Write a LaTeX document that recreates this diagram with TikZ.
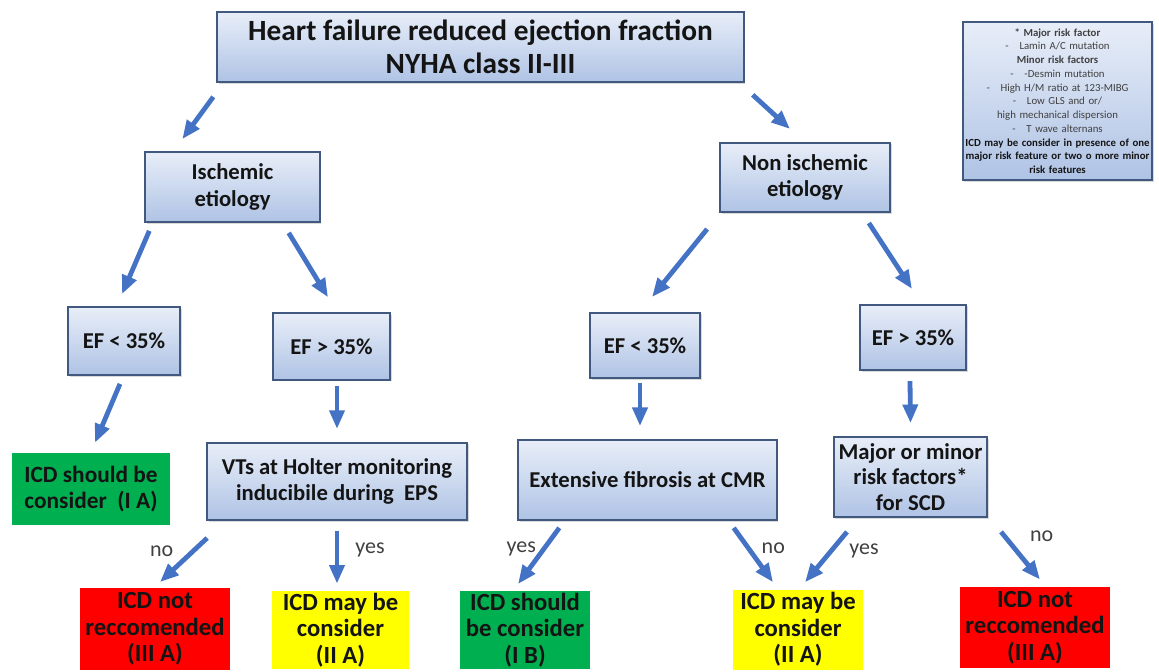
\documentclass[tikz,border=0pt]{standalone}
\usepackage{fontspec}
\setmainfont{Carlito}
\usetikzlibrary{arrows.meta,positioning,calc,shadows}
\definecolor{hfblue}{HTML}{4472C4}
\definecolor{hfedge}{HTML}{41597F}
\definecolor{hftop}{HTML}{E8EEF8}
\definecolor{hfbot}{HTML}{AFC3E5}
\definecolor{hfgreen}{HTML}{00B050}
\definecolor{hfred}{HTML}{FF0000}
\definecolor{hfyellow}{HTML}{FFFF00}
\definecolor{hfink}{HTML}{141414}
\definecolor{hfgrey}{HTML}{404040}

\begin{document}
\begin{tikzpicture}[x=0.75pt,y=-0.75pt,
  font=\bfseries\fontsize{17}{20}\selectfont,
  qbox/.style={draw=hfedge,line width=1.3pt,top color=hftop,bottom color=hfbot,
               align=center,inner sep=1pt,text=hfink,
               drop shadow={shadow xshift=1.2pt,shadow yshift=-1.2pt,opacity=.3}},
  verdict/.style={align=center,inner sep=0pt,text=hfink,
                  font=\bfseries\fontsize{18.5}{19.8}\selectfont},
  good/.style={verdict,fill=hfgreen},
  maybe/.style={verdict,fill=hfyellow},
  bad/.style={verdict,fill=hfred},
  flow/.style={-{Triangle[width=11pt,length=14pt]},line width=3.6pt,draw=hfblue},
  lbl/.style={font=\fontsize{16.5}{18}\selectfont,text=hfgrey,inner sep=1pt},
]
\useasboundingbox (0,0) rectangle (1159,671);

% the top of the tree
\node[qbox,minimum width=395pt,minimum height=52.5pt,
      font=\bfseries\fontsize{22}{25}\selectfont] (title) at (480.5,47)
  {Heart failure reduced ejection fraction\\NYHA class II-III};
\node[qbox,minimum width=131pt,minimum height=52.5pt] (isch) at (232.5,187)
  {Ischemic\\etiology};
\node[qbox,minimum width=127.5pt,minimum height=52pt] (nonisch) at (805,177.5)
  {Non ischemic\\etiology};

% ejection fraction split
\node[qbox,minimum width=84pt,minimum height=51pt] (ilow) at (124,341) {EF < 35\%};
\node[qbox,minimum width=88pt,minimum height=50pt] (ihigh) at (331.5,346.5) {EF > 35\%};
\node[qbox,minimum width=82.5pt,minimum height=49pt] (nlow) at (645,345.5) {EF < 35\%};
\node[qbox,minimum width=79.5pt,minimum height=49pt] (nhigh) at (913,337.5) {EF > 35\%};

% second questions
\node[good,minimum width=118.5pt,minimum height=54pt,
      font=\bfseries\fontsize{17.5}{20}\selectfont] (icdIA) at (91,489)
  {ICD should be\\consider~ (I A)};
\node[qbox,minimum width=195pt,minimum height=58pt] (holter) at (337,481.5)
  {VTs at Holter monitoring\\inducibile during~ EPS};
\node[qbox,minimum width=194pt,minimum height=60pt] (fibro) at (647.5,480)
  {Extensive fibrosis at CMR};
\node[qbox,minimum width=115pt,minimum height=60pt,
      font=\bfseries\fontsize{17}{19}\selectfont] (risk) at (910.5,477)
  {Major or minor\\risk factors*\\for SCD};

% the verdicts
\node[bad,minimum width=112.5pt,minimum height=61pt] (notrecL) at (155,629)
  {ICD not\\reccomended\\(III A)};
\node[maybe,minimum width=103pt,minimum height=58.5pt] (mayL) at (340.5,630)
  {ICD may be\\consider\\(II A)};
\node[good,minimum width=97.5pt,minimum height=58pt] (icdIB) at (525,630)
  {ICD should\\be consider\\(I B)};
\node[maybe,minimum width=97.5pt,minimum height=60pt] (mayR) at (798,629.5)
  {ICD may be\\consider\\(II A)};
\node[bad,minimum width=112.5pt,minimum height=61pt] (notrecR) at (1035,627.5)
  {ICD not\\reccomended\\(III A)};

% risk factor legend
\node[qbox,minimum width=142pt,minimum height=118.5pt,text width=141pt,inner sep=0.5pt,
      font=\fontsize{8.1}{10.3}\selectfont,text=hfgrey] (legend) at (1057.5,101)
  {\textbf{* Major risk factor}\\
   -\quad Lamin A/C mutation\\
   \textbf{Minor risk factors}\\
   -\quad -Desmin mutation\\
   -\quad High H/M ratio at 123-MIBG\\
   -\quad Low GLS and or/\\
   high mechanical dispersion\\
   -\quad T wave alternans\\
   \textcolor{hfink}{\textbf{ICD may be consider in presence of one}}\\
   \textcolor{hfink}{\textbf{major risk feature or two o more minor}}\\
   \textcolor{hfink}{\textbf{risk features}}};

% arrows
\draw[flow] ($(title.south west)+(-3,14)$) -- ($(isch.north west)+(38,-12)$);
\draw[flow] ($(title.south east)+(8,12)$) -- ($(nonisch.north)+(-15,-13)$);
\draw[flow] ($(isch.south west)+(5,8)$) -- ($(ilow.north)+(-2,-12)$);
\draw[flow] ($(isch.south east)+(-32,10)$) -- ($(ihigh.north)+(-3.5,-15)$);
\draw[flow] ($(nonisch.south west)+(-12,16)$) -- ($(nlow.north)+(7,-15)$);
\draw[flow] ($(nonisch.south east)+(-22,10)$) -- ($(nhigh.north)+(-1,-15)$);
\draw[flow] ($(ilow.south)+(-4,8)$) -- ($(icdIA.north)+(4,-10)$);
\draw[flow] ($(ihigh.south)+(5.5,5)$) -- ($(holter.north)+(0,-13)$);
\draw[flow] ($(nlow.south)+(-5,4)$) -- ($(fibro.north)+(-7.5,-13)$);
\draw[flow] ($(nhigh.south)+(-3,10)$) -- ($(risk.north)+(0,-13)$);

\draw[flow] ($(holter.south west)+(1,17)$) --
  node[lbl,pos=.3,left=12pt]{no} ($(notrecL.north)+(5,-6)$);
\draw[flow] ($(holter.south)+(0,10)$) --
  node[lbl,pos=.36,right=11pt]{yes} ($(mayL.north)+(-3.5,-7)$);
\draw[flow] ($(fibro.south west)+(42,7)$) --
  node[lbl,pos=.38,left=3pt]{yes} ($(icdIB.north)+(-7,-7)$);
\draw[flow] ($(fibro.south east)+(-44,7)$) --
  node[lbl,pos=.38,right=7pt]{no} ($(mayR.north)+(-25,-7)$);
\draw[flow] ($(risk.south west)+(14,14)$) --
  node[lbl,pos=.38,right=11pt]{yes} ($(mayR.north)+(7,-7)$);
\draw[flow] ($(risk.south east)+(13,14)$) --
  node[lbl,pos=.1,right=16pt]{no} ($(notrecR.north)+(5,-7)$);

\end{tikzpicture}
\end{document}
